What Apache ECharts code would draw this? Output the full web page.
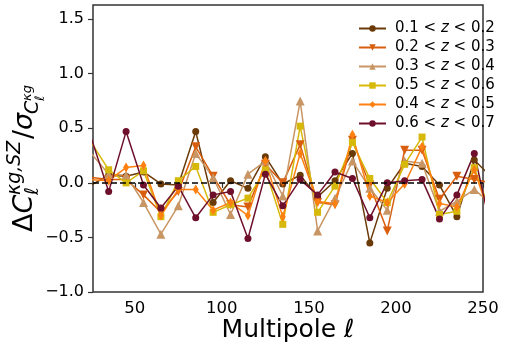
<!DOCTYPE html>
<html><head><meta charset="utf-8">
<script src="https://cdn.jsdelivr.net/npm/echarts@6/dist/echarts.min.js"></script>
<style>html,body{margin:0;padding:0;background:#fff}#c{width:506px;height:352px}</style>
</head><body><div id="c"></div>
<script>
var ell = [25,35,45,55,65,75,85,95,105,115,125,135,145,155,165,175,185,195,205,215,225,235,245,255];
var z1 = [-0.02,0.07,0.06,0.10,-0.01,-0.02,0.47,-0.18,0.02,-0.05,0.24,-0.01,0.07,-0.13,0.02,0.27,-0.55,-0.05,0.18,0.15,-0.02,-0.31,0.21,0.05];
var z2 = [0.05,0.03,0.03,-0.11,-0.27,-0.08,0.33,0.06,-0.20,-0.22,0.17,0.00,0.35,-0.18,-0.20,0.39,-0.02,-0.44,0.30,0.30,-0.15,0.06,0.03,0.00];
var z3 = [0.27,0.08,0.07,-0.18,-0.47,-0.21,0.27,0.05,-0.29,0.08,0.20,-0.12,0.75,-0.44,-0.14,0.20,-0.05,-0.25,0.20,0.18,-0.26,-0.17,-0.06,-0.20];
var z5 = [0.37,0.12,0.00,0.11,-0.31,0.02,0.15,-0.27,-0.20,-0.14,0.12,-0.38,0.52,-0.27,-0.03,0.37,0.04,-0.18,0.17,0.42,-0.29,-0.26,0.14,-0.30];
var z4 = [0.03,0.02,0.14,0.16,-0.30,-0.06,-0.06,-0.25,-0.18,-0.30,0.20,-0.31,0.27,-0.17,-0.19,0.44,-0.12,-0.18,-0.01,0.33,-0.19,-0.22,0.12,-0.35];
var z6 = [0.41,-0.08,0.47,-0.02,-0.23,-0.03,-0.32,-0.11,-0.08,-0.51,0.08,-0.21,0.03,-0.11,0.10,0.04,-0.32,0.00,0.02,0.03,-0.33,-0.11,0.27,-0.45];
var names = ['0.1 < z < 0.2','0.2 < z < 0.3','0.3 < z < 0.4','0.5 < z < 0.6','0.4 < z < 0.5','0.6 < z < 0.7'];
var xTicks = [50,100,150,200,250];
var yTicks = [-1.0,-0.5,0.0,0.5,1.0,1.5];

var F = 'DejaVu Sans';
var values = [z1,z2,z3,z5,z4,z6];
var colors = ['#6a3a08','#d95f0e','#c89664','#d6b90a','#fe8010','#6e0f2c'];
var symbols = ['circle','triangle','triangle','rect','diamond','circle'];
var sizes = [7,9,9,7,[6,10],7];
var rots = [0,180,0,0,0,0];

function pairs(v){ return ell.map(function(x,i){return [x,v[i]];}); }

var series = values.map(function(v,i){
  var s = {
    type:'line', name:names[i], data:pairs(v),
    symbol:symbols[i], symbolSize:sizes[i], symbolRotate:rots[i],
    showAllSymbol:true, clip:true, animation:false,
    itemStyle:{color:colors[i]},
    lineStyle:{color:colors[i], width:1.5}
  };
  if(i===0){
    s.markLine = {silent:true, symbol:['none','none'], animation:false,
      label:{show:false}, lineStyle:{color:'#000', type:[6,3], width:1.5},
      data:[{yAxis:0}]};
  }
  return s;
});

function T(x,y,text,fs,italic){
  return {type:'text', x:x, y:y - 0.35*fs, style:{text:text, font:(italic?'italic ':'')+fs+'px "'+F+'"', fill:'#000', verticalAlign:'middle', align:'left'}};
}

var chart = echarts.init(document.getElementById('c'), null, {renderer:'canvas'});
chart.setOption({
  animation:false,
  backgroundColor:'#fff',
  grid:{left:93, right:23, top:5, bottom:60, show:true, borderColor:'#333', borderWidth:1.5, backgroundColor:'transparent'},
  xAxis:{type:'value', min:26, max:250,
    axisLine:{show:false}, splitLine:{show:false},
    axisTick:{show:true, inside:false, length:5, customValues:xTicks, lineStyle:{color:'#333', width:1.2}},
    axisLabel:{customValues:xTicks, margin:8, color:'#000', fontFamily:F, fontSize:16.5}},
  yAxis:{type:'value', min:-1.0, max:1.63,
    axisLine:{show:false}, splitLine:{show:false},
    axisTick:{show:true, inside:false, length:5, customValues:yTicks, lineStyle:{color:'#333', width:1.2}},
    axisLabel:{customValues:yTicks, margin:9, color:'#000', fontFamily:F, fontSize:16,
      formatter:function(v){return v.toFixed(1).replace('-','\u2212');}}},
  legend:{orient:'vertical', left:353, top:16, itemWidth:27, itemHeight:8, itemGap:4,
    data:names,
    textStyle:{fontFamily:F, fontSize:15, lineHeight:15, color:'#000', padding:[0,0,0,4],
      rich:{n:{fontFamily:F, fontSize:15, color:'#000'}, i:{fontFamily:F, fontSize:15, fontStyle:'italic', color:'#000'}}},
    formatter:function(n){ var p = n.split(' z '); return '{n|' + p[0] + ' }{i|z}{n| ' + p[1] + '}'; }},
  graphic:[
    {type:'text', style:{text:'Multipole \u2113', font:'25px "'+F+'"', fill:'#000', align:'center', verticalAlign:'middle'}, x:288, y:330},
    {type:'group', x:34, y:232, rotation:Math.PI/2, children:[
      T(0,0,'\u0394',27,false),
      T(18.5,0,'C',27,true),
      T(37,-12,'\u03bag,SZ',19,true),
      T(37,6,'\u2113',19,true),
      T(93,0,'/',27,false),
      T(102,0,'\u03c3',27,true),
      T(118,6,'C',19,true),
      T(131,-2,'\u03bag',13,true),
      T(131,11,'\u2113',13,true)
    ]}
  ],
  series:series
});
</script></body></html>
